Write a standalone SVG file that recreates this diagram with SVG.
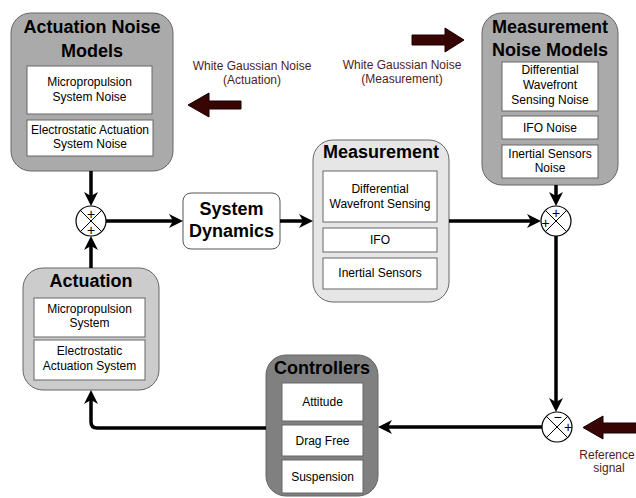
<svg xmlns="http://www.w3.org/2000/svg" width="636" height="498" viewBox="0 0 636 498">
<style>
.title{font-family:"Liberation Sans",Arial,sans-serif;font-weight:bold;font-size:18px;fill:#000;text-anchor:middle}
.lbl{font-family:"Liberation Sans",Arial,sans-serif;font-size:12px;fill:#000;text-anchor:middle}
.noise{font-family:"Liberation Sans",Arial,sans-serif;font-size:12px;fill:#4f1c1c;text-anchor:middle}
.inner{fill:#fff;stroke:#666;stroke-width:1}
.outer{stroke:#666;stroke-width:1}
.wire{fill:none;stroke:#000;stroke-width:3.5}
.sum{fill:#fff;stroke:#000;stroke-width:1.2}
.sx{stroke:#000;stroke-width:1}
.sign{font-family:"Liberation Sans",Arial,sans-serif;font-size:14px;fill:#000;text-anchor:middle}
.big{fill:#380505;stroke:#1a0000;stroke-width:1}
</style>
<defs>
<marker id="ah" viewBox="0 0 14 14" refX="8" refY="7" markerWidth="14" markerHeight="14" markerUnits="userSpaceOnUse" orient="auto">
<path d="M0,0 L14,7 L0,14 L4,7 Z" fill="#000"/>
</marker>
</defs>
<rect width="636" height="498" fill="#fff"/>

<g id="actuation-noise-models">
<rect class="outer" x="11" y="13" width="162" height="158" rx="20" fill="#aaaaaa"/>
<text class="title" x="92" y="33">Actuation Noise</text>
<text class="title" x="92" y="57">Models</text>
<rect class="inner" x="27" y="66" width="125" height="48"/>
<text class="lbl" x="89.5" y="86">Micropropulsion</text>
<text class="lbl" x="89.5" y="101">System Noise</text>
<rect class="inner" x="27" y="120" width="126" height="36"/>
<text class="lbl" x="90" y="134">Electrostatic Actuation</text>
<text class="lbl" x="90" y="148">System Noise</text>
</g>

<g id="measurement-noise-models">
<rect class="outer" x="482" y="13" width="136" height="172" rx="20" fill="#aaaaaa"/>
<text class="title" x="550" y="33">Measurement</text>
<text class="title" x="550" y="56">Noise Models</text>
<rect class="inner" x="502" y="62" width="96" height="49"/>
<text class="lbl" x="550" y="74">Differential</text>
<text class="lbl" x="550" y="89">Wavefront</text>
<text class="lbl" x="550" y="104">Sensing Noise</text>
<rect class="inner" x="502" y="116" width="96" height="23"/>
<text class="lbl" x="550" y="132">IFO Noise</text>
<rect class="inner" x="502" y="145" width="96" height="33"/>
<text class="lbl" x="550" y="158">Inertial Sensors</text>
<text class="lbl" x="550" y="172">Noise</text>
</g>

<g id="system-dynamics">
<rect x="183" y="193" width="97" height="56" rx="8" fill="#fff" stroke="#555" stroke-width="1"/>
<text class="title" x="231.5" y="215">System</text>
<text class="title" x="231.5" y="237">Dynamics</text>
</g>

<g id="measurement">
<rect class="outer" x="313" y="140" width="136" height="162" rx="20" fill="#e6e6e6"/>
<text class="title" x="381" y="158">Measurement</text>
<rect class="inner" x="323" y="171" width="114" height="51"/>
<text class="lbl" x="380" y="193">Differential</text>
<text class="lbl" x="380" y="208">Wavefront Sensing</text>
<rect class="inner" x="323" y="228" width="114" height="24"/>
<text class="lbl" x="380" y="244">IFO</text>
<rect class="inner" x="323" y="258" width="114" height="31"/>
<text class="lbl" x="380" y="277">Inertial Sensors</text>
</g>

<g id="actuation">
<rect class="outer" x="23" y="268" width="136" height="122" rx="20" fill="#cccccc"/>
<text class="title" x="91" y="287">Actuation</text>
<rect class="inner" x="34" y="298" width="111" height="39"/>
<text class="lbl" x="89.5" y="313">Micropropulsion</text>
<text class="lbl" x="89.5" y="327">System</text>
<rect class="inner" x="34" y="340" width="111" height="40"/>
<text class="lbl" x="89.5" y="355">Electrostatic</text>
<text class="lbl" x="89.5" y="370">Actuation System</text>
</g>

<g id="controllers">
<rect class="outer" x="266" y="355" width="112" height="141" rx="20" fill="#808080"/>
<text class="title" x="322" y="374">Controllers</text>
<rect class="inner" x="282" y="383" width="81" height="38"/>
<text class="lbl" x="322.5" y="406">Attitude</text>
<rect class="inner" x="282" y="425" width="81" height="31"/>
<text class="lbl" x="322.5" y="445">Drag Free</text>
<rect class="inner" x="282" y="460" width="81" height="33"/>
<text class="lbl" x="322.5" y="481">Suspension</text>
</g>

<g id="sum1">
<circle class="sum" cx="91" cy="221" r="15"/>
<line class="sx" x1="80.4" y1="210.4" x2="101.6" y2="231.6"/>
<line class="sx" x1="101.6" y1="210.4" x2="80.4" y2="231.6"/>
<text class="sign" x="91" y="219">+</text>
<text class="sign" x="91" y="235">+</text>
</g>

<g id="sum2">
<circle class="sum" cx="556" cy="221" r="15"/>
<line class="sx" x1="545.4" y1="210.4" x2="566.6" y2="231.6"/>
<line class="sx" x1="566.6" y1="210.4" x2="545.4" y2="231.6"/>
<text class="sign" x="556" y="218">+</text>
<text class="sign" x="545.5" y="228">+</text>
</g>

<g id="sum3">
<circle class="sum" cx="557" cy="427" r="15"/>
<line class="sx" x1="546.4" y1="416.4" x2="567.6" y2="437.6"/>
<line class="sx" x1="567.6" y1="416.4" x2="546.4" y2="437.6"/>
<text class="sign" x="557.5" y="422">−</text>
<text class="sign" x="568" y="432">+</text>
</g>

<g id="noise-actuation">
<polygon class="big" points="188,105 209,93 209,101 241,101 241,109 209,109 209,117"/>
<text class="noise" x="252" y="70">White Gaussian Noise</text>
<text class="noise" x="252" y="84">(Actuation)</text>
</g>

<g id="noise-measurement">
<polygon class="big" points="412,35 445,35 445,28 464,40 445,52 445,45 412,45"/>
<text class="noise" x="402" y="69">White Gaussian Noise</text>
<text class="noise" x="402" y="83">(Measurement)</text>
</g>

<g id="reference-signal">
<polygon class="big" points="583,427.5 603,416 603,423 637,423 637,433 603,433 603,439"/>
<text class="noise" x="607" y="459">Reference</text>
<text class="noise" x="609" y="472">signal</text>
</g>

<g id="connectors">
<path class="wire" d="M91,171 V200" marker-end="url(#ah)"/>
<path class="wire" d="M91,268 V242" marker-end="url(#ah)"/>
<path class="wire" d="M106,221 H177" marker-end="url(#ah)"/>
<path class="wire" d="M280,221 H307" marker-end="url(#ah)"/>
<path class="wire" d="M449,221 H535" marker-end="url(#ah)"/>
<path class="wire" d="M556,185 V200" marker-end="url(#ah)"/>
<path class="wire" d="M556,236 V406" marker-end="url(#ah)"/>
<path class="wire" d="M542,427 H384" marker-end="url(#ah)"/>
<path class="wire" d="M266,428 H97 Q91,428 91,422 V396" marker-end="url(#ah)"/>
</g>
</svg>
